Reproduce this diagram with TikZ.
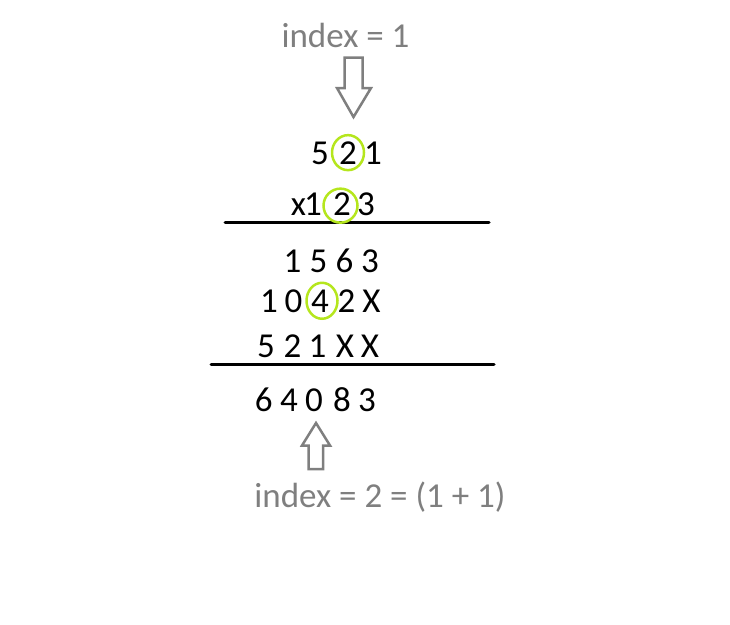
\documentclass[tikz,border=0pt]{standalone}
\usepackage{fontspec}
\setmainfont{Carlito}
\usetikzlibrary{calc,positioning}
\definecolor{markgreen}{RGB}{181,230,29}
\definecolor{notegray}{RGB}{127,127,127}
\tikzstyle{digit} = [anchor=base, inner sep=0pt, font=\fontsize{35}{42}\selectfont]
\tikzstyle{note} = [digit, text=notegray]
\tikzstyle{ring} = [draw=markgreen, line width=2.5pt]
\tikzstyle{hollow} = [draw=notegray, line width=2.5pt, line join=miter]
\tikzstyle{rule} = [line width=3pt, line cap=round]

\begin{document}
\begin{tikzpicture}[x=1pt,y=-1pt]
			\useasboundingbox (0,0) rectangle (730,624);
			\node[note] (top) at (345.5,47) {index = 1};
			\draw[hollow] (344.5,57.5) -- (362.5,57.5) -- (362.5,88) -- (371,88) -- (353.5,117) -- (337,88) -- (344.5,88) -- cycle;
			% operands
			\foreach \d/\x [count=\i] in {5/320,2/348,1/373} \node[digit] (a\i) at (\x,164) {\d};
			\foreach \d/\x [count=\i] in {x/298.5,1/313,2/342,3/366} \node[digit] (b\i) at (\x,215) {\d};
			\draw[rule] (225,222) -- (489,222);
			% partial products
			\foreach \d/\x [count=\i] in {1/292.5,5/318.5,6/344.5,3/370} \node[digit] (c\i) at (\x,272) {\d};
			\foreach \d/\x [count=\i] in {1/269,0/293.5,4/320,2/346.5,X/371.5} \node[digit] (d\i) at (\x,312) {\d};
			\foreach \d/\x [count=\i] in {5/266,2/292.5,1/317.5,X/345,X/370} \node[digit] (e\i) at (\x,357) {\d};
			\draw[rule] (211,364) -- (494,364);
			\foreach \d/\x [count=\i] in {6/263.7,4/289,0/314,8/342,3/367} \node[digit] (f\i) at (\x,411) {\d};
			% marked digits
			\draw[ring] (a2.center) ellipse (16 and 17.5);
			\draw[ring] ($(b3.center)+(-1.5,2)$) ellipse (17 and 17);
			\draw[ring] ($(d3.center)+(2,0)$) ellipse (15.5 and 18);
			\draw[hollow] (308.5,469) -- (323,469) -- (323,445.5) -- (330,445.5) -- (316,423) -- (302,445.5) -- (308.5,445.5) -- cycle;
			\node[note] (bottom) at (380,507) {index = 2 = (1 + 1)};
		\end{tikzpicture}
\end{document}
